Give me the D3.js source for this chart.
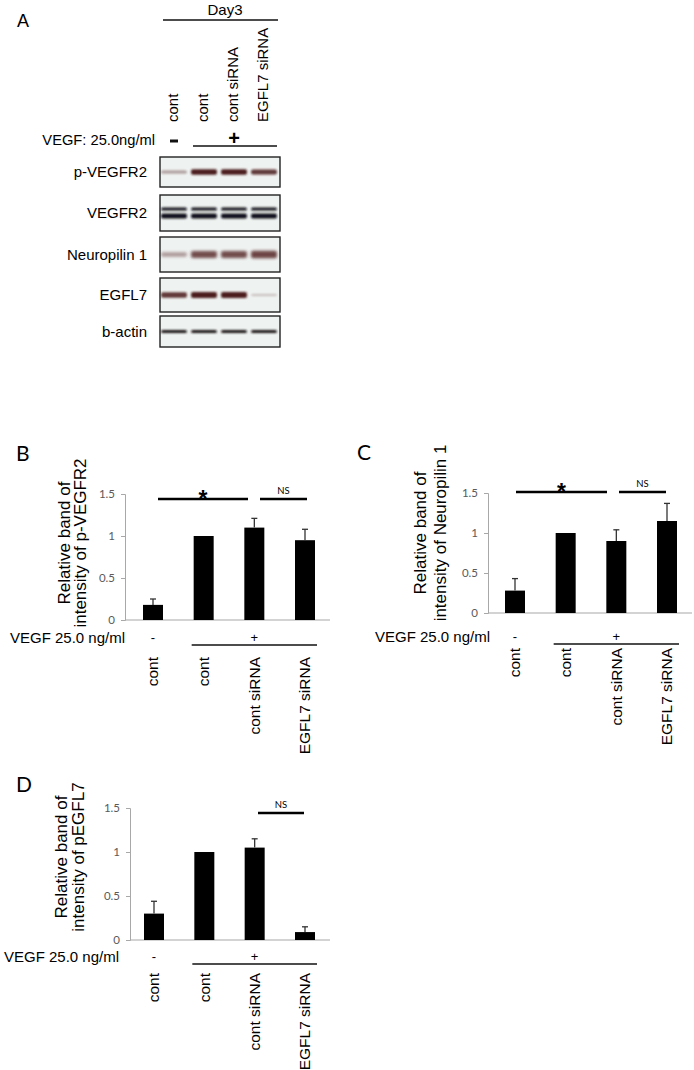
<!DOCTYPE html>
<html><head><meta charset="utf-8">
<script src="https://cdn.jsdelivr.net/npm/d3@7"></script>
<style>body{margin:0;background:#fff} svg{display:block}</style>
</head><body>
<script>
// ---------- data ----------
const laneLabels = ["cont", "cont", "cont siRNA", "EGFL7 siRNA"];
const vegfSigns = ["-", "+", "+", "+"];
const blotNames = ["p-VEGFR2", "VEGFR2", "Neuropilin 1", "EGFL7", "b-actin"];
const bandPVEGFR2 = [0.3, 1, 1, 0.85];
const bandVEGFR2 = [1, 1, 1, 1];
const bandNRP1 = [0.35, 0.8, 0.8, 0.85];
const bandEGFL7 = [0.85, 1, 1, 0.12];
const bandActin = [1, 1, 1, 1];

const pVEGFR2Mean = [0.18, 1.0, 1.1, 0.95];
const pVEGFR2Err  = [0.07, 0, 0.11, 0.13];
const nrp1Mean = [0.28, 1.0, 0.9, 1.15];
const nrp1Err  = [0.15, 0, 0.14, 0.22];
const egfl7Mean = [0.3, 1.0, 1.05, 0.09];
const egfl7Err  = [0.14, 0, 0.1, 0.06];
const yTicks = [0, 0.5, 1, 1.5];
const vegfLabel = "VEGF 25.0 ng/ml";

// ---------- svg ----------
const W = 694, H = 1070;
const svg = d3.select("body").append("svg").attr("width", W).attr("height", H)
  .style("font-family", "'Liberation Sans', Arial, sans-serif");
const defs = svg.append("defs");
defs.append("filter").attr("id", "blur").attr("x", "-20%").attr("y", "-100%").attr("width", "140%").attr("height", "300%")
  .append("feGaussianBlur").attr("stdDeviation", 0.9);
defs.append("filter").attr("id", "blur2").attr("x", "-20%").attr("y", "-100%").attr("width", "140%").attr("height", "300%")
  .append("feGaussianBlur").attr("stdDeviation", 1.4);

// ---------- Panel A ----------
const lane = d3.scalePoint().domain(d3.range(laneLabels.length)).range([174, 264]);
svg.append("text").attr("x", 17).attr("y", 27).attr("font-size", 18).text("A");
svg.append("text").attr("x", 225).attr("y", 15).attr("text-anchor", "middle").attr("font-size", 15).text("Day3");
svg.append("line").attr("x1", 163).attr("x2", 278).attr("y1", 20).attr("y2", 20).attr("stroke", "#111").attr("stroke-width", 1.5);
svg.append("g").selectAll("text").data(laneLabels).join("text")
  .attr("transform", (d, i) => `translate(${lane(i) - 1},122) rotate(-90)`)
  .attr("dy", "0.35em").attr("font-size", 15).text(d => d);
svg.append("text").attr("x", 155).attr("y", 145).attr("text-anchor", "end").attr("font-size", 14.7).text("VEGF: 25.0ng/ml");
svg.append("line").attr("x1", lane(0) - 4).attr("x2", lane(0) + 4).attr("y1", 141).attr("y2", 141).attr("stroke", "#111").attr("stroke-width", 3);
svg.append("text").attr("x", lane(2)).attr("y", 145).attr("text-anchor", "middle").attr("font-size", 20).attr("font-weight", "bold").text("+");
svg.append("line").attr("x1", 193).attr("x2", 277).attr("y1", 146).attr("y2", 146).attr("stroke", "#111").attr("stroke-width", 1.3);

const blotRows = [
  {top: 157, h: 30, vals: bandPVEGFR2, color: "#4a1a1a", bands: [{dy: 0, t: 5.5}], f: "blur"},
  {top: 195, h: 36, vals: bandVEGFR2, color: "#10101a", bands: [{dy: -4, t: 3}, {dy: 3, t: 5}], f: "blur"},
  {top: 237, h: 35, vals: bandNRP1, color: "#5a2a2a", bands: [{dy: 0, t: 8}], f: "blur2"},
  {top: 278, h: 34, vals: bandEGFL7, color: "#4e1e1a", bands: [{dy: 0, t: 6}], f: "blur"},
  {top: 316, h: 31, vals: bandActin, color: "#1e1414", bands: [{dy: 0, t: 3}], f: "blur"}
];
blotRows.forEach((r, k) => {
  const g = svg.append("g");
  g.append("rect").attr("x", 160).attr("y", r.top).attr("width", 120).attr("height", r.h)
    .attr("fill", "#eef2f1").attr("stroke", "#222").attr("stroke-width", 1.4);
  g.append("text").attr("x", 147).attr("y", r.top + r.h / 2).attr("dy", "0.35em")
    .attr("text-anchor", "end").attr("font-size", 15).text(blotNames[k]);
  const cy = r.top + r.h / 2;
  r.bands.forEach(b => {
    g.append("g").selectAll("rect").data(r.vals).join("rect")
      .attr("x", (d, i) => lane(i) - 13).attr("width", 26)
      .attr("y", d => cy + b.dy - b.t * Math.sqrt(d) / 2)
      .attr("height", d => b.t * Math.sqrt(d))
      .attr("rx", 2)
      .attr("fill", r.color).attr("opacity", d => 0.15 + 0.85 * d)
      .attr("filter", `url(#${r.f})`);
  });
});

// ---------- bar panels ----------
function barPanel(c) {
  const g = svg.append("g");
  const y = d3.scaleLinear().domain([0, 1.5]).range([c.y0, c.y15]);
  const x = d3.scalePoint().domain(d3.range(laneLabels.length)).range([c.xFirst, c.xLast]);
  const bw = 20;
  g.append("text").attr("x", c.lx).attr("y", c.ly).attr("font-size", 21)
    .style("font-family", "Lato, 'Open Sans', sans-serif").text(c.letter);
  // y axis
  const ax = g.append("g").attr("transform", `translate(${c.axisX},0)`)
    .call(d3.axisLeft(y).tickValues(yTicks).tickSize(4).tickPadding(6).tickFormat(d3.format("")));
  ax.select(".domain").attr("stroke", "#a8a8a8");
  ax.selectAll(".tick line").attr("stroke", "#a8a8a8");
  ax.selectAll(".tick text").attr("fill", "#5a5a5a").attr("font-size", 11.5)
    .style("font-family", "Lato, 'Open Sans', sans-serif");
  // x axis line
  g.append("line").attr("x1", c.axisX).attr("x2", c.xEnd).attr("y1", c.y0).attr("y2", c.y0)
    .attr("stroke", "#a8a8a8").attr("stroke-width", 1.2);
  // bars
  g.append("g").selectAll("rect").data(c.mean).join("rect")
    .attr("x", (d, i) => x(i) - bw / 2).attr("width", bw)
    .attr("y", d => y(d)).attr("height", d => c.y0 - y(d)).attr("fill", "#000");
  // error bars
  const eg = g.append("g").attr("stroke", "#333").attr("stroke-width", 1.3);
  c.mean.forEach((m, i) => {
    if (!c.err[i]) return;
    eg.append("line").attr("x1", x(i)).attr("x2", x(i)).attr("y1", y(m)).attr("y2", y(m + c.err[i]));
    eg.append("line").attr("x1", x(i) - 3).attr("x2", x(i) + 3).attr("y1", y(m + c.err[i])).attr("y2", y(m + c.err[i]));
  });
  // y title
  c.title.forEach((t, k) => {
    g.append("text").attr("transform", `translate(${c.tx[k]},${c.tcy}) rotate(-90)`)
      .attr("dy", "0.35em").attr("text-anchor", "middle").attr("font-size", 17).text(t);
  });
  // VEGF row
  g.append("text").attr("x", c.vx).attr("y", c.vy).attr("font-size", 15).text(vegfLabel);
  g.append("g").selectAll("text").data(vegfSigns).join("text")
    .filter((d, i) => i === 0 || i === 2)
    .attr("x", (d, i) => x(i === 0 ? 0 : 2)).attr("y", c.vy - 1)
    .attr("text-anchor", "middle").attr("font-size", 13).text(d => d);
  g.append("line").attr("x1", x(1) - bw / 2 - 2).attr("x2", x(3) + bw / 2 + 2).attr("y1", c.vy + 2).attr("y2", c.vy + 2)
    .attr("stroke", "#111").attr("stroke-width", 1.3);
  // category labels
  g.append("g").selectAll("text").data(laneLabels).join("text")
    .attr("transform", (d, i) => `translate(${x(i)},${c.labTop}) rotate(-90)`)
    .attr("dy", "0.35em").attr("text-anchor", "end").attr("font-size", 15.5).text(d => d);
  // significance
  c.sigs.forEach(s => {
    g.append("line").attr("x1", s.x1).attr("x2", s.x2).attr("y1", s.y).attr("y2", s.y)
      .attr("stroke", "#000").attr("stroke-width", 2.6);
    if (s.t === "*") {
      g.append("text").attr("x", (s.x1 + s.x2) / 2).attr("y", s.y + 8).attr("text-anchor", "middle")
        .attr("font-size", 23).attr("font-weight", "bold").text("*");
    } else {
      g.append("text").attr("x", (s.x1 + s.x2) / 2).attr("y", s.y - 5).attr("text-anchor", "middle")
        .attr("font-size", 9.5).style("font-family", "Lato, 'Open Sans', sans-serif").text(s.t);
    }
  });
}

barPanel({letter: "B", lx: 16, ly: 461, axisX: 125, y0: 620, y15: 494, xFirst: 153, xLast: 305, xEnd: 330,
  mean: pVEGFR2Mean, err: pVEGFR2Err,
  title: ["Relative band of", "intensity of p-VEGFR2"], tx: [64, 80], tcy: 543,
  vx: 10, vy: 643, labTop: 657,
  sigs: [{x1: 158, x2: 248, y: 499, t: "*"}, {x1: 260, x2: 307, y: 499, t: "NS"}]});

barPanel({letter: "C", lx: 357, ly: 460, axisX: 488, y0: 613, y15: 493, xFirst: 515, xLast: 667, xEnd: 692,
  mean: nrp1Mean, err: nrp1Err,
  title: ["Relative band of", "intensity of Neuropilin 1"], tx: [420, 440], tcy: 533,
  vx: 375, vy: 642, labTop: 648,
  sigs: [{x1: 516, x2: 607, y: 492, t: "*"}, {x1: 619, x2: 666, y: 492, t: "NS"}]});

barPanel({letter: "D", lx: 16, ly: 792, axisX: 130, y0: 940, y15: 808, xFirst: 154, xLast: 305, xEnd: 330,
  mean: egfl7Mean, err: egfl7Err,
  title: ["Relative band of", "intensity of pEGFL7"], tx: [61, 78], tcy: 857,
  vx: 4, vy: 962, labTop: 973,
  sigs: [{x1: 258, x2: 304, y: 813, t: "NS"}]});
</script>
</body></html>
